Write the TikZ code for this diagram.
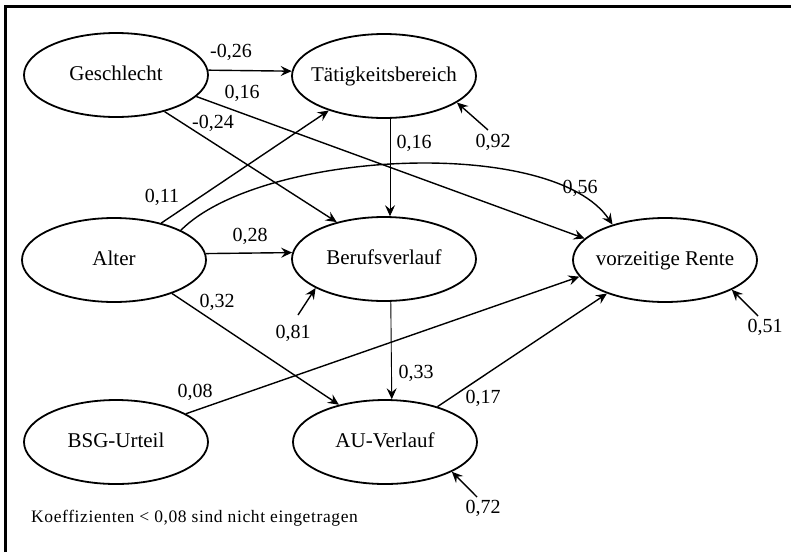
\documentclass[tikz,border=0pt]{standalone}
\usepackage{fontspec}
\setmainfont{Liberation Serif}
\usetikzlibrary{shapes.geometric,arrows.meta}
\newcommand\vname[1]{\makebox[0pt]{#1}}
\begin{document}
\begin{tikzpicture}[x=1pt,y=-1pt,
  latent/.style={ellipse,draw,line width=1.8pt,minimum width=184pt,minimum height=84pt,
    inner sep=0pt,text height=14pt,text depth=4pt,font=\fontsize{21}{25}\selectfont},
  effect/.style={line width=1.4pt,-{Stealth[length=11pt,width=10pt,inset=4pt]}},
  thineffect/.style={effect,line width=0.9pt},
  coef/.style={inner sep=0pt,font=\fontsize{20}{24}\selectfont},
  frameline/.style={line width=2.4pt}
]
\useasboundingbox (0,0) rectangle (791,552);

% frame (top and left edges)
\coordinate (fa) at (5.5,552);
\coordinate (fb) at (5.5,6.5);
\coordinate (fc) at (791,6.5);
\draw[frameline] (fa) -- (fb) -- (fc);

% latent variables
\node[latent] (G) at (116,75)  {\vname{Geschlecht}};
\node[latent] (T) at (384,76)  {\vname{Tätigkeitsbereich}};
\node[latent] (A) at (114,260) {\vname{Alter}};
\node[latent] (B) at (384,259) {\vname{Berufsverlauf}};
\node[latent] (R) at (665,260) {\vname{vorzeitige Rente}};
\node[latent] (S) at (116,442) {\vname{BSG-Urteil}};
\node[latent] (U) at (385,442) {\vname{AU-Verlauf}};

% path coefficients
\draw[effect] (G.3) -- (T.177);
\draw[effect] (G.-15) -- (R.165);
\draw[effect] (G.-37) -- (B.142);
\draw[effect] (A.38) -- (T.-148);
\draw[effect] (A.24) .. controls +(80,-80) and +(-60,-89) .. (R.146);
\draw[effect] (A.4) -- (B.176);
\draw[effect] (A.-30) -- (U.141);
\draw[thineffect] (T.-82) -- (B.82);
\draw[thineffect] (B.-81) -- (U.81);
\draw[effect] (S.22) -- (R.-169);
\draw[effect] (U.34) -- (R.-150);

% residual terms
\coordinate (eT) at (488,130);
\coordinate (eB) at (298,315);
\coordinate (eR) at (758,316);
\coordinate (eU) at (477,497);
\draw[effect] (eT) -- (T.-20);
\draw[effect] (eB) -- (B.-157);
\draw[effect] (eR) -- (R.-24);
\draw[effect] (eU) -- (U.-24);

% coefficient labels
\node[coef] (lGT) at (231,52)  {-0,26};
\node[coef] (lGR) at (242,93)  {0,16};
\node[coef] (lGB) at (213,123) {-0,24};
\node[coef] (lAT) at (162,197) {0,11};
\node[coef] (lAR) at (580,188) {0,56};
\node[coef] (lAB) at (250,236) {0,28};
\node[coef] (lAU) at (217,302) {0,32};
\node[coef] (lTB) at (414,143) {0,16};
\node[coef] (lBU) at (416,373) {0,33};
\node[coef] (lSR) at (195,392) {0,08};
\node[coef] (lUR) at (483,398) {0,17};
\node[coef] (leT) at (493,142) {0,92};
\node[coef] (leB) at (293,333) {0,81};
\node[coef] (leR) at (765,327) {0,51};
\node[coef] (leU) at (483,508) {0,72};

% note
\node[anchor=west,inner sep=0pt,font=\fontsize{17.5}{21}\selectfont\addfontfeature{LetterSpace=3.5}] (note) at (31,518)
  {Koeffizienten < 0,08 sind nicht eingetragen};
\end{tikzpicture}
\end{document}
